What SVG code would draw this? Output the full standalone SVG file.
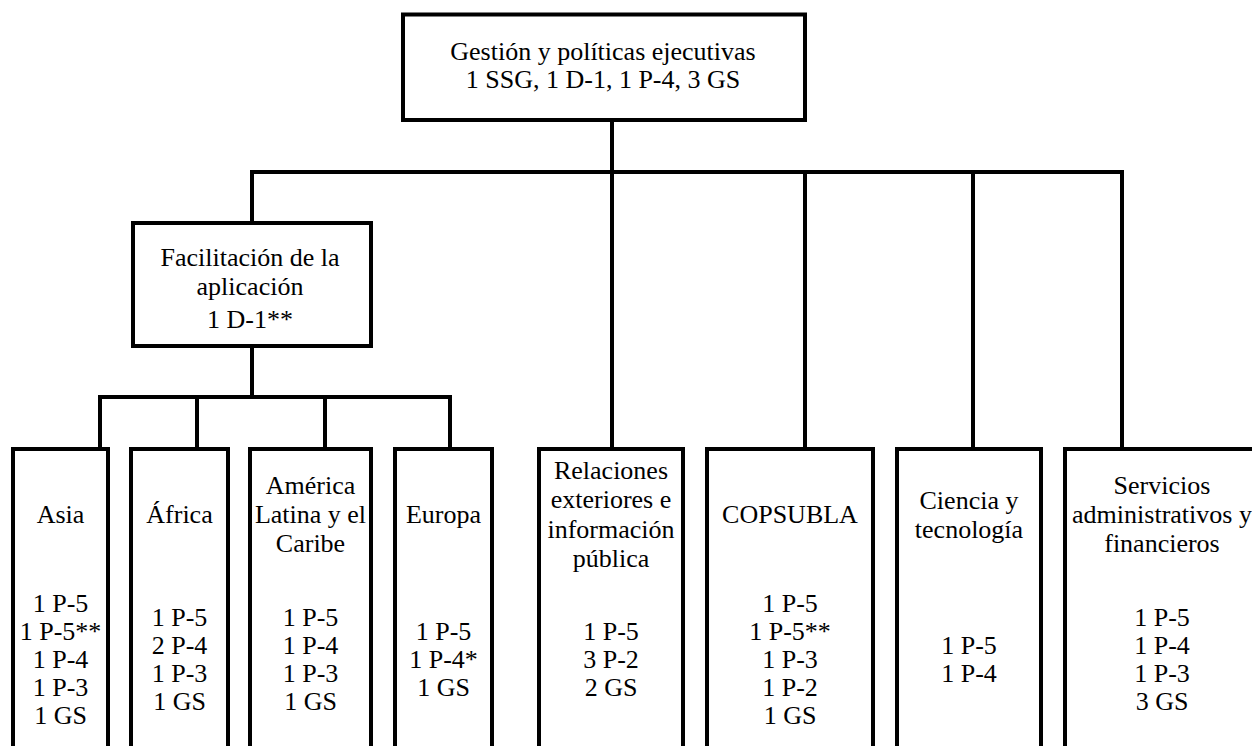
<svg xmlns="http://www.w3.org/2000/svg" width="1252" height="746" viewBox="0 0 1252 746">
<style>
.box{fill:#fff;stroke:#000;stroke-width:4}
.ln{fill:none;stroke:#000;stroke-width:4;stroke-linecap:square;stroke-linejoin:miter}
text{font-family:"Liberation Serif","Times New Roman",serif;font-size:26px;fill:#000;text-anchor:middle}
</style>
<rect width="1252" height="746" fill="#fff"/>
<g id="connectors">
<path class="ln" d="M612,120 V172"/>
<path class="ln" d="M252,223 V172 H1122 V449"/>
<path class="ln" d="M612,172 V449"/>
<path class="ln" d="M805,172 V449"/>
<path class="ln" d="M973,172 V449"/>
<path class="ln" d="M252,346 V397"/>
<path class="ln" d="M100,449 V397 H450 V449"/>
<path class="ln" d="M197,397 V449"/>
<path class="ln" d="M325,397 V449"/>
</g>
<g id="gestion">
<rect class="box" x="403" y="14.5" width="402" height="105.5"/>
<text x="603" y="60">Gestión y políticas ejecutivas</text>
<text x="603" y="88">1 SSG, 1 D-1, 1 P-4, 3 GS</text>
</g>
<g id="facilitacion">
<rect class="box" x="133" y="223" width="238" height="123"/>
<text x="250" y="266">Facilitación de la</text>
<text x="250" y="295">aplicación</text>
<text x="250" y="328">1 D-1**</text>
</g>
<g id="asia">
<rect class="box" x="13" y="449" width="95" height="320"/>
<text x="60.5" y="523">Asia</text>
<text x="60.5" y="612">1 P-5</text>
<text x="60.5" y="640">1 P-5**</text>
<text x="60.5" y="668">1 P-4</text>
<text x="60.5" y="696">1 P-3</text>
<text x="60.5" y="724">1 GS</text>
</g>
<g id="africa">
<rect class="box" x="131" y="449" width="97" height="320"/>
<text x="179.5" y="523">África</text>
<text x="179.5" y="626">1 P-5</text>
<text x="179.5" y="654">2 P-4</text>
<text x="179.5" y="682">1 P-3</text>
<text x="179.5" y="710">1 GS</text>
</g>
<g id="america">
<rect class="box" x="250" y="449" width="121" height="320"/>
<text x="310.5" y="494">América</text>
<text x="310.5" y="523">Latina y el</text>
<text x="310.5" y="552">Caribe</text>
<text x="310.5" y="626">1 P-5</text>
<text x="310.5" y="654">1 P-4</text>
<text x="310.5" y="682">1 P-3</text>
<text x="310.5" y="710">1 GS</text>
</g>
<g id="europa">
<rect class="box" x="395" y="449" width="97" height="320"/>
<text x="443.5" y="523">Europa</text>
<text x="443.5" y="640">1 P-5</text>
<text x="443.5" y="668">1 P-4*</text>
<text x="443.5" y="696">1 GS</text>
</g>
<g id="relaciones">
<rect class="box" x="539" y="449" width="144" height="320"/>
<text x="611" y="478.5">Relaciones</text>
<text x="611" y="508">exteriores e</text>
<text x="611" y="537.5">información</text>
<text x="611" y="567">pública</text>
<text x="611" y="640">1 P-5</text>
<text x="611" y="668">3 P-2</text>
<text x="611" y="696">2 GS</text>
</g>
<g id="copsubla">
<rect class="box" x="707" y="449" width="166" height="320"/>
<text x="790" y="523">COPSUBLA</text>
<text x="790" y="612">1 P-5</text>
<text x="790" y="640">1 P-5**</text>
<text x="790" y="668">1 P-3</text>
<text x="790" y="696">1 P-2</text>
<text x="790" y="724">1 GS</text>
</g>
<g id="ciencia">
<rect class="box" x="897" y="449" width="144" height="320"/>
<text x="969" y="508.5">Ciencia y</text>
<text x="969" y="537.5">tecnología</text>
<text x="969" y="654">1 P-5</text>
<text x="969" y="682">1 P-4</text>
</g>
<g id="servicios">
<rect class="box" x="1065" y="449" width="194" height="320"/>
<text x="1162" y="494">Servicios</text>
<text x="1162" y="523">administrativos y</text>
<text x="1162" y="552">financieros</text>
<text x="1162" y="626">1 P-5</text>
<text x="1162" y="654">1 P-4</text>
<text x="1162" y="682">1 P-3</text>
<text x="1162" y="710">3 GS</text>
</g>
</svg>
